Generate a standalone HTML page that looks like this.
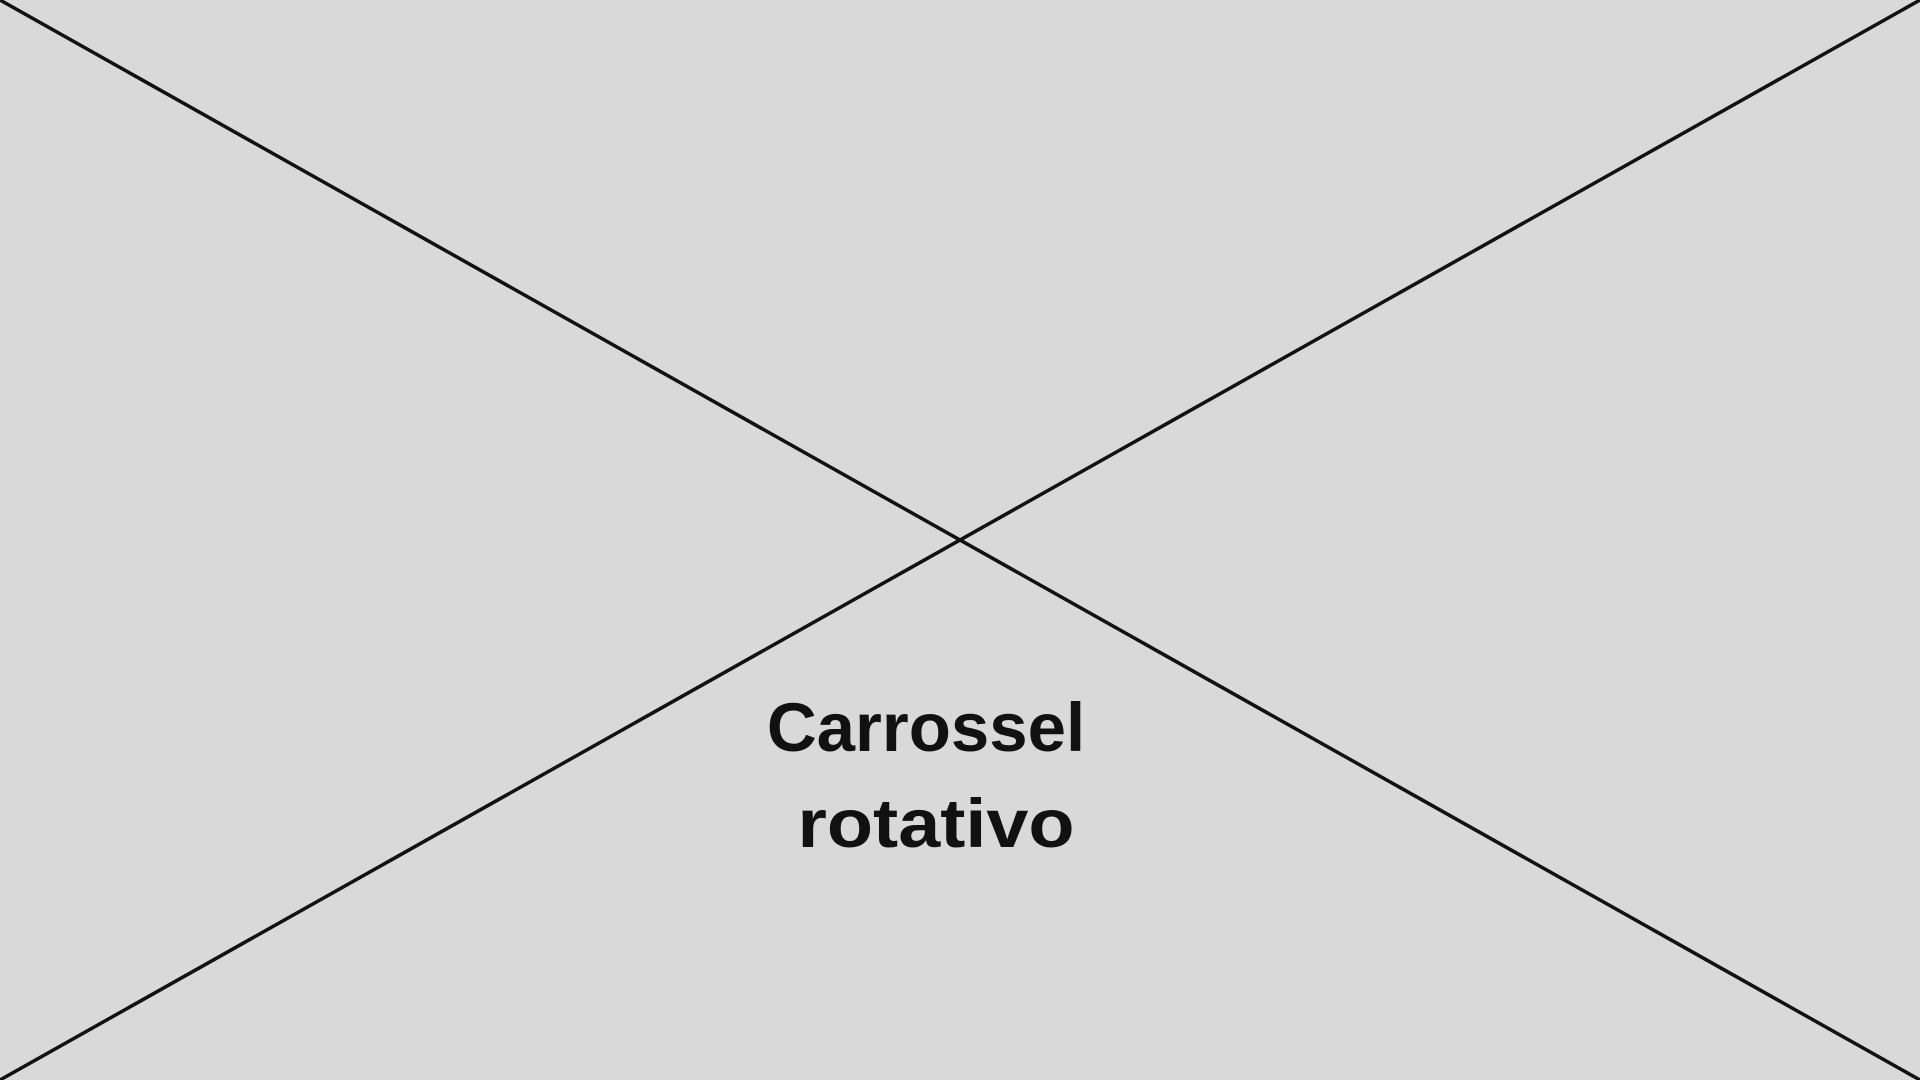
<!DOCTYPE html>
<html>
<head>
<meta charset="utf-8">
<style>
  html, body { margin: 0; padding: 0; width: 1920px; height: 1080px; overflow: hidden; background: #d9d9d9; }
  svg { display: block; }
</style>
</head>
<body>
<svg width="1920" height="1080" viewBox="0 0 1920 1080">
  <rect x="0" y="0" width="1920" height="1080" fill="#d9d9d9"/>
  <line x1="0" y1="0" x2="1920" y2="1080" stroke="#111" stroke-width="3.5"/>
  <line x1="0" y1="1080" x2="1920" y2="0" stroke="#111" stroke-width="3.5"/>
  <text x="926" y="751" text-anchor="middle" font-family="'Liberation Sans', sans-serif" font-weight="bold" font-size="69" fill="#111">Carrossel</text>
  <text x="936" y="847" text-anchor="middle" textLength="277" lengthAdjust="spacingAndGlyphs" font-family="'Liberation Sans', sans-serif" font-weight="bold" font-size="69" fill="#111">rotativo</text>
</svg>
</body>
</html>
